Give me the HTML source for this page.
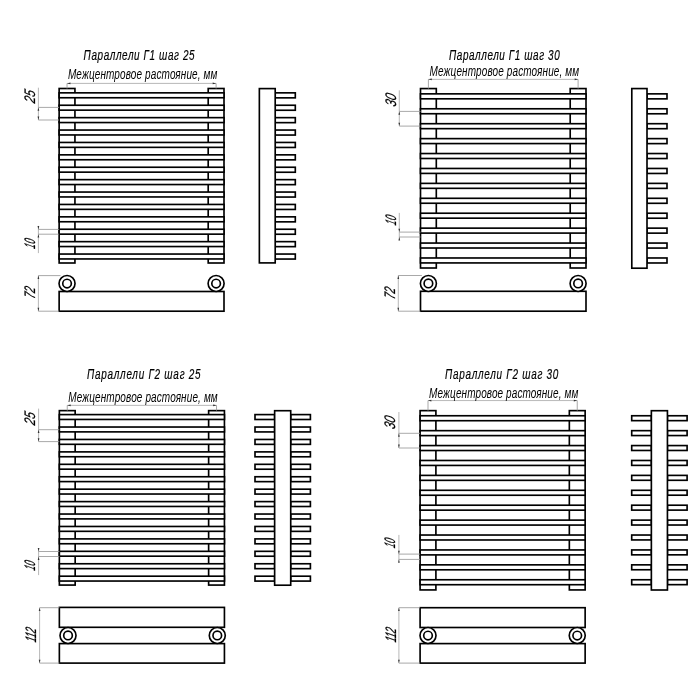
<!DOCTYPE html>
<html><head><meta charset="utf-8"><style>
html,body{margin:0;padding:0;background:#fff;width:700px;height:700px;overflow:hidden}
svg{display:block;will-change:transform}
text{font-family:"Liberation Sans",sans-serif;font-style:italic;fill:#111}
.h{stroke:#000;stroke-width:0.18;fill:#000}
.s{fill:#000}
.d{fill:#000;stroke:#000;stroke-width:0.25}
</style></head><body>
<svg width="700" height="700" viewBox="0 0 700 700">
<rect width="700" height="700" fill="#fff"/>
<rect x="59.14" y="88.50" width="15.80" height="174.50" fill="#fff" stroke="#000" stroke-width="1.65"/>
<rect x="208.20" y="88.50" width="15.80" height="174.50" fill="#fff" stroke="#000" stroke-width="1.65"/>
<rect x="59.14" y="92.85" width="164.86" height="4.90" fill="#fff" stroke="#000" stroke-width="1.65"/>
<rect x="59.14" y="105.25" width="164.86" height="4.90" fill="#fff" stroke="#000" stroke-width="1.65"/>
<rect x="59.14" y="117.65" width="164.86" height="4.90" fill="#fff" stroke="#000" stroke-width="1.65"/>
<rect x="59.14" y="130.05" width="164.86" height="4.90" fill="#fff" stroke="#000" stroke-width="1.65"/>
<rect x="59.14" y="142.45" width="164.86" height="4.90" fill="#fff" stroke="#000" stroke-width="1.65"/>
<rect x="59.14" y="154.85" width="164.86" height="4.90" fill="#fff" stroke="#000" stroke-width="1.65"/>
<rect x="59.14" y="167.25" width="164.86" height="4.90" fill="#fff" stroke="#000" stroke-width="1.65"/>
<rect x="59.14" y="179.65" width="164.86" height="4.90" fill="#fff" stroke="#000" stroke-width="1.65"/>
<rect x="59.14" y="192.05" width="164.86" height="4.90" fill="#fff" stroke="#000" stroke-width="1.65"/>
<rect x="59.14" y="204.45" width="164.86" height="4.90" fill="#fff" stroke="#000" stroke-width="1.65"/>
<rect x="59.14" y="216.85" width="164.86" height="4.90" fill="#fff" stroke="#000" stroke-width="1.65"/>
<rect x="59.14" y="229.25" width="164.86" height="4.90" fill="#fff" stroke="#000" stroke-width="1.65"/>
<rect x="59.14" y="241.65" width="164.86" height="4.90" fill="#fff" stroke="#000" stroke-width="1.65"/>
<rect x="59.14" y="254.05" width="164.86" height="4.90" fill="#fff" stroke="#000" stroke-width="1.65"/>
<line x1="67.04" y1="83.40" x2="216.10" y2="83.40" stroke="#999" stroke-width="0.7"/>
<line x1="67.04" y1="83.40" x2="67.04" y2="88.50" stroke="#9a9a9a" stroke-width="0.85"/>
<line x1="216.10" y1="83.40" x2="216.10" y2="88.50" stroke="#9a9a9a" stroke-width="0.85"/>
<polygon points="67.04,83.40 70.44,82.55 70.44,84.25" fill="#333"/>
<polygon points="216.10,83.40 212.70,82.55 212.70,84.25" fill="#333"/>
<text class="h" transform="translate(83.60,59.50) scale(0.7,1)" font-size="14.2" textLength="158.6" lengthAdjust="spacing">Параллели Г1 шаг 25</text>
<text class="s" transform="translate(67.90,79.40) scale(0.7,1)" font-size="14.3" textLength="213.6" lengthAdjust="spacing">Межцентровое растояние, мм</text>
<rect x="275.20" y="92.85" width="20.10" height="5.00" fill="#fff" stroke="#000" stroke-width="1.65"/>
<rect x="275.20" y="105.25" width="20.10" height="5.00" fill="#fff" stroke="#000" stroke-width="1.65"/>
<rect x="275.20" y="117.65" width="20.10" height="5.00" fill="#fff" stroke="#000" stroke-width="1.65"/>
<rect x="275.20" y="130.05" width="20.10" height="5.00" fill="#fff" stroke="#000" stroke-width="1.65"/>
<rect x="275.20" y="142.45" width="20.10" height="5.00" fill="#fff" stroke="#000" stroke-width="1.65"/>
<rect x="275.20" y="154.85" width="20.10" height="5.00" fill="#fff" stroke="#000" stroke-width="1.65"/>
<rect x="275.20" y="167.25" width="20.10" height="5.00" fill="#fff" stroke="#000" stroke-width="1.65"/>
<rect x="275.20" y="179.65" width="20.10" height="5.00" fill="#fff" stroke="#000" stroke-width="1.65"/>
<rect x="275.20" y="192.05" width="20.10" height="5.00" fill="#fff" stroke="#000" stroke-width="1.65"/>
<rect x="275.20" y="204.45" width="20.10" height="5.00" fill="#fff" stroke="#000" stroke-width="1.65"/>
<rect x="275.20" y="216.85" width="20.10" height="5.00" fill="#fff" stroke="#000" stroke-width="1.65"/>
<rect x="275.20" y="229.25" width="20.10" height="5.00" fill="#fff" stroke="#000" stroke-width="1.65"/>
<rect x="275.20" y="241.65" width="20.10" height="5.00" fill="#fff" stroke="#000" stroke-width="1.65"/>
<rect x="275.20" y="254.05" width="20.10" height="5.00" fill="#fff" stroke="#000" stroke-width="1.65"/>
<rect x="259.36" y="88.60" width="15.84" height="174.30" fill="#fff" stroke="#000" stroke-width="1.65"/>
<line x1="38.40" y1="87.70" x2="38.40" y2="120.00" stroke="#999" stroke-width="0.7"/>
<line x1="38.40" y1="107.40" x2="59.14" y2="107.40" stroke="#9a9a9a" stroke-width="0.85"/>
<line x1="38.40" y1="120.00" x2="59.14" y2="120.00" stroke="#9a9a9a" stroke-width="0.85"/>
<polygon points="38.40,107.40 37.55,110.80 39.25,110.80" fill="#333"/>
<polygon points="38.40,120.00 37.55,116.60 39.25,116.60" fill="#333"/>
<text class="d" transform="translate(34.60,103.70) rotate(-90) skewX(-14)" font-size="15.2" textLength="12.6" lengthAdjust="spacingAndGlyphs">25</text>
<line x1="38.40" y1="225.90" x2="38.40" y2="253.10" stroke="#999" stroke-width="0.7"/>
<line x1="38.40" y1="229.40" x2="59.14" y2="229.40" stroke="#9a9a9a" stroke-width="0.85"/>
<line x1="38.40" y1="234.20" x2="59.14" y2="234.20" stroke="#9a9a9a" stroke-width="0.85"/>
<polygon points="38.40,229.40 37.55,226.00 39.25,226.00" fill="#333"/>
<polygon points="38.40,234.20 37.55,237.60 39.25,237.60" fill="#333"/>
<text class="d" transform="translate(34.60,249.20) rotate(-90) skewX(-14)" font-size="15.2" textLength="9.2" lengthAdjust="spacingAndGlyphs">10</text>
<rect x="59.14" y="291.50" width="164.86" height="19.70" fill="#fff" stroke="#000" stroke-width="1.65"/>
<circle cx="67.04" cy="283.50" r="8.00" fill="#fff" stroke="#000" stroke-width="1.65"/>
<circle cx="67.04" cy="283.50" r="4.30" fill="#fff" stroke="#000" stroke-width="1.65"/>
<circle cx="216.10" cy="283.50" r="8.00" fill="#fff" stroke="#000" stroke-width="1.65"/>
<circle cx="216.10" cy="283.50" r="4.30" fill="#fff" stroke="#000" stroke-width="1.65"/>
<line x1="38.40" y1="275.60" x2="38.40" y2="311.20" stroke="#999" stroke-width="0.7"/>
<line x1="38.40" y1="275.60" x2="60.54" y2="275.60" stroke="#9a9a9a" stroke-width="0.85"/>
<line x1="38.40" y1="311.20" x2="59.14" y2="311.20" stroke="#9a9a9a" stroke-width="0.85"/>
<polygon points="38.40,275.60 37.55,279.00 39.25,279.00" fill="#333"/>
<polygon points="38.40,311.20 37.55,307.80 39.25,307.80" fill="#333"/>
<text class="d" transform="translate(34.60,299.20) rotate(-90) skewX(-14)" font-size="15.2" textLength="11.2" lengthAdjust="spacingAndGlyphs">72</text>
<rect x="420.50" y="88.57" width="15.80" height="179.43" fill="#fff" stroke="#000" stroke-width="1.65"/>
<rect x="570.20" y="88.57" width="15.80" height="179.43" fill="#fff" stroke="#000" stroke-width="1.65"/>
<rect x="420.50" y="93.86" width="165.50" height="4.95" fill="#fff" stroke="#000" stroke-width="1.65"/>
<rect x="420.50" y="108.78" width="165.50" height="4.95" fill="#fff" stroke="#000" stroke-width="1.65"/>
<rect x="420.50" y="123.70" width="165.50" height="4.95" fill="#fff" stroke="#000" stroke-width="1.65"/>
<rect x="420.50" y="138.62" width="165.50" height="4.95" fill="#fff" stroke="#000" stroke-width="1.65"/>
<rect x="420.50" y="153.54" width="165.50" height="4.95" fill="#fff" stroke="#000" stroke-width="1.65"/>
<rect x="420.50" y="168.46" width="165.50" height="4.95" fill="#fff" stroke="#000" stroke-width="1.65"/>
<rect x="420.50" y="183.38" width="165.50" height="4.95" fill="#fff" stroke="#000" stroke-width="1.65"/>
<rect x="420.50" y="198.30" width="165.50" height="4.95" fill="#fff" stroke="#000" stroke-width="1.65"/>
<rect x="420.50" y="213.22" width="165.50" height="4.95" fill="#fff" stroke="#000" stroke-width="1.65"/>
<rect x="420.50" y="228.14" width="165.50" height="4.95" fill="#fff" stroke="#000" stroke-width="1.65"/>
<rect x="420.50" y="243.06" width="165.50" height="4.95" fill="#fff" stroke="#000" stroke-width="1.65"/>
<rect x="420.50" y="257.98" width="165.50" height="4.95" fill="#fff" stroke="#000" stroke-width="1.65"/>
<line x1="428.40" y1="79.36" x2="578.10" y2="79.36" stroke="#999" stroke-width="0.7"/>
<line x1="428.40" y1="79.36" x2="428.40" y2="88.57" stroke="#9a9a9a" stroke-width="0.85"/>
<line x1="578.10" y1="79.36" x2="578.10" y2="88.57" stroke="#9a9a9a" stroke-width="0.85"/>
<polygon points="428.40,79.36 431.80,78.51 431.80,80.21" fill="#333"/>
<polygon points="578.10,79.36 574.70,78.51 574.70,80.21" fill="#333"/>
<text class="h" transform="translate(449.00,60.20) scale(0.7,1)" font-size="14.2" textLength="158.1" lengthAdjust="spacing">Параллели Г1 шаг 30</text>
<text class="s" transform="translate(429.60,76.10) scale(0.7,1)" font-size="14.3" textLength="213.6" lengthAdjust="spacing">Межцентровое растояние, мм</text>
<rect x="647.00" y="93.86" width="20.00" height="5.00" fill="#fff" stroke="#000" stroke-width="1.65"/>
<rect x="647.00" y="108.78" width="20.00" height="5.00" fill="#fff" stroke="#000" stroke-width="1.65"/>
<rect x="647.00" y="123.70" width="20.00" height="5.00" fill="#fff" stroke="#000" stroke-width="1.65"/>
<rect x="647.00" y="138.62" width="20.00" height="5.00" fill="#fff" stroke="#000" stroke-width="1.65"/>
<rect x="647.00" y="153.54" width="20.00" height="5.00" fill="#fff" stroke="#000" stroke-width="1.65"/>
<rect x="647.00" y="168.46" width="20.00" height="5.00" fill="#fff" stroke="#000" stroke-width="1.65"/>
<rect x="647.00" y="183.38" width="20.00" height="5.00" fill="#fff" stroke="#000" stroke-width="1.65"/>
<rect x="647.00" y="198.30" width="20.00" height="5.00" fill="#fff" stroke="#000" stroke-width="1.65"/>
<rect x="647.00" y="213.22" width="20.00" height="5.00" fill="#fff" stroke="#000" stroke-width="1.65"/>
<rect x="647.00" y="228.14" width="20.00" height="5.00" fill="#fff" stroke="#000" stroke-width="1.65"/>
<rect x="647.00" y="243.06" width="20.00" height="5.00" fill="#fff" stroke="#000" stroke-width="1.65"/>
<rect x="647.00" y="257.98" width="20.00" height="5.00" fill="#fff" stroke="#000" stroke-width="1.65"/>
<rect x="631.80" y="88.57" width="15.20" height="179.63" fill="#fff" stroke="#000" stroke-width="1.65"/>
<line x1="399.30" y1="90.30" x2="399.30" y2="126.10" stroke="#999" stroke-width="0.7"/>
<line x1="399.30" y1="111.40" x2="420.50" y2="111.40" stroke="#9a9a9a" stroke-width="0.85"/>
<line x1="399.30" y1="126.10" x2="420.50" y2="126.10" stroke="#9a9a9a" stroke-width="0.85"/>
<polygon points="399.30,111.40 398.45,114.80 400.15,114.80" fill="#333"/>
<polygon points="399.30,126.10 398.45,122.70 400.15,122.70" fill="#333"/>
<text class="d" transform="translate(395.90,107.30) rotate(-90) skewX(-14)" font-size="15.2" textLength="12.6" lengthAdjust="spacingAndGlyphs">30</text>
<line x1="399.30" y1="212.90" x2="399.30" y2="239.80" stroke="#999" stroke-width="0.7"/>
<line x1="399.30" y1="232.10" x2="420.50" y2="232.10" stroke="#9a9a9a" stroke-width="0.85"/>
<line x1="399.30" y1="237.00" x2="420.50" y2="237.00" stroke="#9a9a9a" stroke-width="0.85"/>
<polygon points="399.30,232.10 398.45,228.70 400.15,228.70" fill="#333"/>
<polygon points="399.30,237.00 398.45,240.40 400.15,240.40" fill="#333"/>
<text class="d" transform="translate(395.90,225.70) rotate(-90) skewX(-14)" font-size="15.2" textLength="9.2" lengthAdjust="spacingAndGlyphs">10</text>
<rect x="420.50" y="291.30" width="165.50" height="19.90" fill="#fff" stroke="#000" stroke-width="1.65"/>
<circle cx="428.40" cy="283.45" r="8.00" fill="#fff" stroke="#000" stroke-width="1.65"/>
<circle cx="428.40" cy="283.45" r="4.30" fill="#fff" stroke="#000" stroke-width="1.65"/>
<circle cx="578.10" cy="283.45" r="8.00" fill="#fff" stroke="#000" stroke-width="1.65"/>
<circle cx="578.10" cy="283.45" r="4.30" fill="#fff" stroke="#000" stroke-width="1.65"/>
<line x1="398.30" y1="275.50" x2="398.30" y2="311.20" stroke="#999" stroke-width="0.7"/>
<line x1="398.30" y1="275.50" x2="421.90" y2="275.50" stroke="#9a9a9a" stroke-width="0.85"/>
<line x1="398.30" y1="311.20" x2="420.50" y2="311.20" stroke="#9a9a9a" stroke-width="0.85"/>
<polygon points="398.30,275.50 397.45,278.90 399.15,278.90" fill="#333"/>
<polygon points="398.30,311.20 397.45,307.80 399.15,307.80" fill="#333"/>
<text class="d" transform="translate(394.80,299.70) rotate(-90) skewX(-14)" font-size="15.2" textLength="11.2" lengthAdjust="spacingAndGlyphs">72</text>
<rect x="59.36" y="410.64" width="15.80" height="174.43" fill="#fff" stroke="#000" stroke-width="1.65"/>
<rect x="208.63" y="410.64" width="15.80" height="174.43" fill="#fff" stroke="#000" stroke-width="1.65"/>
<rect x="59.36" y="414.60" width="165.07" height="4.85" fill="#fff" stroke="#000" stroke-width="1.65"/>
<rect x="59.36" y="427.03" width="165.07" height="4.85" fill="#fff" stroke="#000" stroke-width="1.65"/>
<rect x="59.36" y="439.46" width="165.07" height="4.85" fill="#fff" stroke="#000" stroke-width="1.65"/>
<rect x="59.36" y="451.89" width="165.07" height="4.85" fill="#fff" stroke="#000" stroke-width="1.65"/>
<rect x="59.36" y="464.32" width="165.07" height="4.85" fill="#fff" stroke="#000" stroke-width="1.65"/>
<rect x="59.36" y="476.75" width="165.07" height="4.85" fill="#fff" stroke="#000" stroke-width="1.65"/>
<rect x="59.36" y="489.18" width="165.07" height="4.85" fill="#fff" stroke="#000" stroke-width="1.65"/>
<rect x="59.36" y="501.61" width="165.07" height="4.85" fill="#fff" stroke="#000" stroke-width="1.65"/>
<rect x="59.36" y="514.04" width="165.07" height="4.85" fill="#fff" stroke="#000" stroke-width="1.65"/>
<rect x="59.36" y="526.47" width="165.07" height="4.85" fill="#fff" stroke="#000" stroke-width="1.65"/>
<rect x="59.36" y="538.90" width="165.07" height="4.85" fill="#fff" stroke="#000" stroke-width="1.65"/>
<rect x="59.36" y="551.33" width="165.07" height="4.85" fill="#fff" stroke="#000" stroke-width="1.65"/>
<rect x="59.36" y="563.76" width="165.07" height="4.85" fill="#fff" stroke="#000" stroke-width="1.65"/>
<rect x="59.36" y="576.19" width="165.07" height="4.85" fill="#fff" stroke="#000" stroke-width="1.65"/>
<line x1="67.26" y1="405.37" x2="216.53" y2="405.37" stroke="#999" stroke-width="0.7"/>
<line x1="67.26" y1="405.37" x2="67.26" y2="410.64" stroke="#9a9a9a" stroke-width="0.85"/>
<line x1="216.53" y1="405.37" x2="216.53" y2="410.64" stroke="#9a9a9a" stroke-width="0.85"/>
<polygon points="67.26,405.37 70.66,404.52 70.66,406.22" fill="#333"/>
<polygon points="216.53,405.37 213.13,404.52 213.13,406.22" fill="#333"/>
<text class="h" transform="translate(87.10,378.90) scale(0.7,1)" font-size="14.2" textLength="162.1" lengthAdjust="spacing">Параллели Г2 шаг 25</text>
<text class="s" transform="translate(68.20,401.50) scale(0.7,1)" font-size="14.3" textLength="213.6" lengthAdjust="spacing">Межцентровое растояние, мм</text>
<rect x="255.00" y="414.60" width="19.64" height="4.90" fill="#fff" stroke="#000" stroke-width="1.65"/>
<rect x="290.71" y="414.60" width="19.69" height="4.90" fill="#fff" stroke="#000" stroke-width="1.65"/>
<rect x="255.00" y="427.03" width="19.64" height="4.90" fill="#fff" stroke="#000" stroke-width="1.65"/>
<rect x="290.71" y="427.03" width="19.69" height="4.90" fill="#fff" stroke="#000" stroke-width="1.65"/>
<rect x="255.00" y="439.46" width="19.64" height="4.90" fill="#fff" stroke="#000" stroke-width="1.65"/>
<rect x="290.71" y="439.46" width="19.69" height="4.90" fill="#fff" stroke="#000" stroke-width="1.65"/>
<rect x="255.00" y="451.89" width="19.64" height="4.90" fill="#fff" stroke="#000" stroke-width="1.65"/>
<rect x="290.71" y="451.89" width="19.69" height="4.90" fill="#fff" stroke="#000" stroke-width="1.65"/>
<rect x="255.00" y="464.32" width="19.64" height="4.90" fill="#fff" stroke="#000" stroke-width="1.65"/>
<rect x="290.71" y="464.32" width="19.69" height="4.90" fill="#fff" stroke="#000" stroke-width="1.65"/>
<rect x="255.00" y="476.75" width="19.64" height="4.90" fill="#fff" stroke="#000" stroke-width="1.65"/>
<rect x="290.71" y="476.75" width="19.69" height="4.90" fill="#fff" stroke="#000" stroke-width="1.65"/>
<rect x="255.00" y="489.18" width="19.64" height="4.90" fill="#fff" stroke="#000" stroke-width="1.65"/>
<rect x="290.71" y="489.18" width="19.69" height="4.90" fill="#fff" stroke="#000" stroke-width="1.65"/>
<rect x="255.00" y="501.61" width="19.64" height="4.90" fill="#fff" stroke="#000" stroke-width="1.65"/>
<rect x="290.71" y="501.61" width="19.69" height="4.90" fill="#fff" stroke="#000" stroke-width="1.65"/>
<rect x="255.00" y="514.04" width="19.64" height="4.90" fill="#fff" stroke="#000" stroke-width="1.65"/>
<rect x="290.71" y="514.04" width="19.69" height="4.90" fill="#fff" stroke="#000" stroke-width="1.65"/>
<rect x="255.00" y="526.47" width="19.64" height="4.90" fill="#fff" stroke="#000" stroke-width="1.65"/>
<rect x="290.71" y="526.47" width="19.69" height="4.90" fill="#fff" stroke="#000" stroke-width="1.65"/>
<rect x="255.00" y="538.90" width="19.64" height="4.90" fill="#fff" stroke="#000" stroke-width="1.65"/>
<rect x="290.71" y="538.90" width="19.69" height="4.90" fill="#fff" stroke="#000" stroke-width="1.65"/>
<rect x="255.00" y="551.33" width="19.64" height="4.90" fill="#fff" stroke="#000" stroke-width="1.65"/>
<rect x="290.71" y="551.33" width="19.69" height="4.90" fill="#fff" stroke="#000" stroke-width="1.65"/>
<rect x="255.00" y="563.76" width="19.64" height="4.90" fill="#fff" stroke="#000" stroke-width="1.65"/>
<rect x="290.71" y="563.76" width="19.69" height="4.90" fill="#fff" stroke="#000" stroke-width="1.65"/>
<rect x="255.00" y="576.19" width="19.64" height="4.90" fill="#fff" stroke="#000" stroke-width="1.65"/>
<rect x="290.71" y="576.19" width="19.69" height="4.90" fill="#fff" stroke="#000" stroke-width="1.65"/>
<rect x="274.64" y="410.71" width="16.07" height="174.49" fill="#fff" stroke="#000" stroke-width="1.65"/>
<line x1="38.60" y1="408.60" x2="38.60" y2="441.60" stroke="#999" stroke-width="0.7"/>
<line x1="38.60" y1="429.70" x2="59.36" y2="429.70" stroke="#9a9a9a" stroke-width="0.85"/>
<line x1="38.60" y1="441.60" x2="59.36" y2="441.60" stroke="#9a9a9a" stroke-width="0.85"/>
<polygon points="38.60,429.70 37.75,433.10 39.45,433.10" fill="#333"/>
<polygon points="38.60,441.60 37.75,438.20 39.45,438.20" fill="#333"/>
<text class="d" transform="translate(35.00,425.70) rotate(-90) skewX(-14)" font-size="15.2" textLength="12.6" lengthAdjust="spacingAndGlyphs">25</text>
<line x1="38.60" y1="548.30" x2="38.60" y2="575.10" stroke="#999" stroke-width="0.7"/>
<line x1="38.60" y1="551.50" x2="59.36" y2="551.50" stroke="#9a9a9a" stroke-width="0.85"/>
<line x1="38.60" y1="556.50" x2="59.36" y2="556.50" stroke="#9a9a9a" stroke-width="0.85"/>
<polygon points="38.60,551.50 37.75,548.10 39.45,548.10" fill="#333"/>
<polygon points="38.60,556.50 37.75,559.90 39.45,559.90" fill="#333"/>
<text class="d" transform="translate(34.90,571.00) rotate(-90) skewX(-14)" font-size="15.2" textLength="9.2" lengthAdjust="spacingAndGlyphs">10</text>
<rect x="59.36" y="607.40" width="165.07" height="19.90" fill="#fff" stroke="#000" stroke-width="1.65"/>
<rect x="59.36" y="643.60" width="165.07" height="19.50" fill="#fff" stroke="#000" stroke-width="1.65"/>
<circle cx="68.01" cy="635.45" r="8.00" fill="#fff" stroke="#000" stroke-width="1.65"/>
<circle cx="68.01" cy="635.45" r="4.30" fill="#fff" stroke="#000" stroke-width="1.65"/>
<circle cx="217.28" cy="635.45" r="8.00" fill="#fff" stroke="#000" stroke-width="1.65"/>
<circle cx="217.28" cy="635.45" r="4.30" fill="#fff" stroke="#000" stroke-width="1.65"/>
<line x1="39.60" y1="607.70" x2="39.60" y2="663.10" stroke="#999" stroke-width="0.7"/>
<line x1="39.60" y1="607.70" x2="59.36" y2="607.70" stroke="#9a9a9a" stroke-width="0.85"/>
<line x1="39.60" y1="663.10" x2="59.36" y2="663.10" stroke="#9a9a9a" stroke-width="0.85"/>
<polygon points="39.60,607.70 38.75,611.10 40.45,611.10" fill="#333"/>
<polygon points="39.60,663.10 38.75,659.70 40.45,659.70" fill="#333"/>
<text class="d" transform="translate(36.00,642.80) rotate(-90) skewX(-14)" font-size="15.2" textLength="14.0" lengthAdjust="spacingAndGlyphs">112</text>
<rect x="420.10" y="410.64" width="15.80" height="179.29" fill="#fff" stroke="#000" stroke-width="1.65"/>
<rect x="569.34" y="410.64" width="15.80" height="179.29" fill="#fff" stroke="#000" stroke-width="1.65"/>
<rect x="420.10" y="415.75" width="165.04" height="4.95" fill="#fff" stroke="#000" stroke-width="1.65"/>
<rect x="420.10" y="430.66" width="165.04" height="4.95" fill="#fff" stroke="#000" stroke-width="1.65"/>
<rect x="420.10" y="445.57" width="165.04" height="4.95" fill="#fff" stroke="#000" stroke-width="1.65"/>
<rect x="420.10" y="460.48" width="165.04" height="4.95" fill="#fff" stroke="#000" stroke-width="1.65"/>
<rect x="420.10" y="475.39" width="165.04" height="4.95" fill="#fff" stroke="#000" stroke-width="1.65"/>
<rect x="420.10" y="490.30" width="165.04" height="4.95" fill="#fff" stroke="#000" stroke-width="1.65"/>
<rect x="420.10" y="505.21" width="165.04" height="4.95" fill="#fff" stroke="#000" stroke-width="1.65"/>
<rect x="420.10" y="520.12" width="165.04" height="4.95" fill="#fff" stroke="#000" stroke-width="1.65"/>
<rect x="420.10" y="535.03" width="165.04" height="4.95" fill="#fff" stroke="#000" stroke-width="1.65"/>
<rect x="420.10" y="549.94" width="165.04" height="4.95" fill="#fff" stroke="#000" stroke-width="1.65"/>
<rect x="420.10" y="564.85" width="165.04" height="4.95" fill="#fff" stroke="#000" stroke-width="1.65"/>
<rect x="420.10" y="579.76" width="165.04" height="4.95" fill="#fff" stroke="#000" stroke-width="1.65"/>
<line x1="428.00" y1="400.57" x2="577.24" y2="400.57" stroke="#999" stroke-width="0.7"/>
<line x1="428.00" y1="400.57" x2="428.00" y2="410.64" stroke="#9a9a9a" stroke-width="0.85"/>
<line x1="577.24" y1="400.57" x2="577.24" y2="410.64" stroke="#9a9a9a" stroke-width="0.85"/>
<polygon points="428.00,400.57 431.40,399.72 431.40,401.42" fill="#333"/>
<polygon points="577.24,400.57 573.84,399.72 573.84,401.42" fill="#333"/>
<text class="h" transform="translate(445.10,378.90) scale(0.7,1)" font-size="14.2" textLength="161.7" lengthAdjust="spacing">Параллели Г2 шаг 30</text>
<text class="s" transform="translate(429.10,397.90) scale(0.7,1)" font-size="14.3" textLength="213.1" lengthAdjust="spacing">Межцентровое растояние, мм</text>
<rect x="631.71" y="415.75" width="19.65" height="4.90" fill="#fff" stroke="#000" stroke-width="1.65"/>
<rect x="667.43" y="415.75" width="19.67" height="4.90" fill="#fff" stroke="#000" stroke-width="1.65"/>
<rect x="631.71" y="430.66" width="19.65" height="4.90" fill="#fff" stroke="#000" stroke-width="1.65"/>
<rect x="667.43" y="430.66" width="19.67" height="4.90" fill="#fff" stroke="#000" stroke-width="1.65"/>
<rect x="631.71" y="445.57" width="19.65" height="4.90" fill="#fff" stroke="#000" stroke-width="1.65"/>
<rect x="667.43" y="445.57" width="19.67" height="4.90" fill="#fff" stroke="#000" stroke-width="1.65"/>
<rect x="631.71" y="460.48" width="19.65" height="4.90" fill="#fff" stroke="#000" stroke-width="1.65"/>
<rect x="667.43" y="460.48" width="19.67" height="4.90" fill="#fff" stroke="#000" stroke-width="1.65"/>
<rect x="631.71" y="475.39" width="19.65" height="4.90" fill="#fff" stroke="#000" stroke-width="1.65"/>
<rect x="667.43" y="475.39" width="19.67" height="4.90" fill="#fff" stroke="#000" stroke-width="1.65"/>
<rect x="631.71" y="490.30" width="19.65" height="4.90" fill="#fff" stroke="#000" stroke-width="1.65"/>
<rect x="667.43" y="490.30" width="19.67" height="4.90" fill="#fff" stroke="#000" stroke-width="1.65"/>
<rect x="631.71" y="505.21" width="19.65" height="4.90" fill="#fff" stroke="#000" stroke-width="1.65"/>
<rect x="667.43" y="505.21" width="19.67" height="4.90" fill="#fff" stroke="#000" stroke-width="1.65"/>
<rect x="631.71" y="520.12" width="19.65" height="4.90" fill="#fff" stroke="#000" stroke-width="1.65"/>
<rect x="667.43" y="520.12" width="19.67" height="4.90" fill="#fff" stroke="#000" stroke-width="1.65"/>
<rect x="631.71" y="535.03" width="19.65" height="4.90" fill="#fff" stroke="#000" stroke-width="1.65"/>
<rect x="667.43" y="535.03" width="19.67" height="4.90" fill="#fff" stroke="#000" stroke-width="1.65"/>
<rect x="631.71" y="549.94" width="19.65" height="4.90" fill="#fff" stroke="#000" stroke-width="1.65"/>
<rect x="667.43" y="549.94" width="19.67" height="4.90" fill="#fff" stroke="#000" stroke-width="1.65"/>
<rect x="631.71" y="564.85" width="19.65" height="4.90" fill="#fff" stroke="#000" stroke-width="1.65"/>
<rect x="667.43" y="564.85" width="19.67" height="4.90" fill="#fff" stroke="#000" stroke-width="1.65"/>
<rect x="631.71" y="579.76" width="19.65" height="4.90" fill="#fff" stroke="#000" stroke-width="1.65"/>
<rect x="667.43" y="579.76" width="19.67" height="4.90" fill="#fff" stroke="#000" stroke-width="1.65"/>
<rect x="651.36" y="410.71" width="16.07" height="179.29" fill="#fff" stroke="#000" stroke-width="1.65"/>
<line x1="398.90" y1="412.00" x2="398.90" y2="448.00" stroke="#999" stroke-width="0.7"/>
<line x1="398.90" y1="433.30" x2="420.10" y2="433.30" stroke="#9a9a9a" stroke-width="0.85"/>
<line x1="398.90" y1="448.00" x2="420.10" y2="448.00" stroke="#9a9a9a" stroke-width="0.85"/>
<polygon points="398.90,433.30 398.05,436.70 399.75,436.70" fill="#333"/>
<polygon points="398.90,448.00 398.05,444.60 399.75,444.60" fill="#333"/>
<text class="d" transform="translate(395.40,429.70) rotate(-90) skewX(-14)" font-size="15.2" textLength="12.6" lengthAdjust="spacingAndGlyphs">30</text>
<line x1="398.90" y1="534.90" x2="398.90" y2="561.70" stroke="#999" stroke-width="0.7"/>
<line x1="398.90" y1="554.10" x2="420.10" y2="554.10" stroke="#9a9a9a" stroke-width="0.85"/>
<line x1="398.90" y1="559.40" x2="420.10" y2="559.40" stroke="#9a9a9a" stroke-width="0.85"/>
<polygon points="398.90,554.10 398.05,550.70 399.75,550.70" fill="#333"/>
<polygon points="398.90,559.40 398.05,562.80 399.75,562.80" fill="#333"/>
<text class="d" transform="translate(395.40,548.50) rotate(-90) skewX(-14)" font-size="15.2" textLength="9.2" lengthAdjust="spacingAndGlyphs">10</text>
<rect x="420.10" y="607.70" width="165.04" height="19.80" fill="#fff" stroke="#000" stroke-width="1.65"/>
<rect x="420.10" y="643.60" width="165.04" height="19.50" fill="#fff" stroke="#000" stroke-width="1.65"/>
<circle cx="428.00" cy="635.50" r="8.00" fill="#fff" stroke="#000" stroke-width="1.65"/>
<circle cx="428.00" cy="635.50" r="4.30" fill="#fff" stroke="#000" stroke-width="1.65"/>
<circle cx="577.24" cy="635.50" r="8.00" fill="#fff" stroke="#000" stroke-width="1.65"/>
<circle cx="577.24" cy="635.50" r="4.30" fill="#fff" stroke="#000" stroke-width="1.65"/>
<line x1="398.90" y1="607.70" x2="398.90" y2="663.10" stroke="#999" stroke-width="0.7"/>
<line x1="398.90" y1="607.70" x2="420.10" y2="607.70" stroke="#9a9a9a" stroke-width="0.85"/>
<line x1="398.90" y1="663.10" x2="420.10" y2="663.10" stroke="#9a9a9a" stroke-width="0.85"/>
<polygon points="398.90,607.70 398.05,611.10 399.75,611.10" fill="#333"/>
<polygon points="398.90,663.10 398.05,659.70 399.75,659.70" fill="#333"/>
<text class="d" transform="translate(396.00,642.80) rotate(-90) skewX(-14)" font-size="15.2" textLength="14.0" lengthAdjust="spacingAndGlyphs">112</text>
</svg>
</body></html>
